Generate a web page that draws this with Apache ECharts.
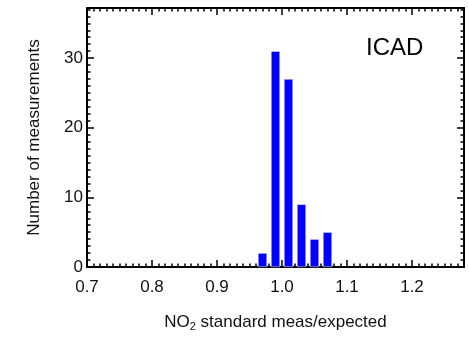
<!DOCTYPE html>
<html>
<head>
<meta charset="utf-8">
<script src="https://cdn.jsdelivr.net/npm/echarts@6/dist/echarts.min.js"></script>
<style>html,body{margin:0;padding:0;background:#fff}#c{width:469px;height:337px}</style>
</head>
<body>
<div id="c"></div>
<script>
// Data
const binCenters = [0.97, 0.99, 1.01, 1.03, 1.05, 1.07];
const counts = [2, 31, 27, 9, 4, 5];
const xTicks = [0.7, 0.8, 0.9, 1.0, 1.1, 1.2];
const yTicks = [0, 10, 20, 30];
const panelLabel = 'ICAD';

const FONT = 'Liberation Sans';
const X_MIN = 0.7, X_MAX = 1.28, Y_MIN = 0, Y_MAX = 37.2;
const chart = echarts.init(document.getElementById('c'), null, {renderer: 'canvas'});

function xAxisDef(pos, major, showLabels) {
  return {
    type: 'value', position: pos, min: X_MIN, max: X_MAX,
    interval: major ? 0.1 : 0.01,
    axisLine: {show: major, onZero: false, lineStyle: {color: '#000', width: 2}},
    axisTick: {show: true, inside: true, length: major ? 7 : 3.5, lineStyle: {color: '#000', width: 1.5}},
    axisLabel: {show: showLabels, showMaxLabel: false, margin: 12, color: '#111', fontFamily: FONT, fontSize: 17,
      formatter: v => xTicks.some(t => Math.abs(t - v) < 1e-6) ? v.toFixed(1) : ''},
    splitLine: {show: false},
    name: showLabels ? '{a|NO}{s|2}{a| standard meas/expected}' : '',
    nameLocation: 'middle', nameGap: 45,
    nameTextStyle: {rich: {
      a: {fontFamily: FONT, fontSize: 17, color: '#111'},
      s: {fontFamily: FONT, fontSize: 11, color: '#111', padding: [9, 0, 0, 0]}
    }}
  };
}
function yAxisDef(pos, major, showLabels) {
  return {
    type: 'value', position: pos, min: Y_MIN, max: Y_MAX,
    interval: major ? 10 : 1,
    axisLine: {show: major, onZero: false, lineStyle: {color: '#000', width: 2}},
    axisTick: {show: true, inside: true, length: major ? 7 : 3.5, lineStyle: {color: '#000', width: 1.5}},
    axisLabel: {show: showLabels, showMaxLabel: false, margin: 4, color: '#111', fontFamily: FONT, fontSize: 17,
      formatter: v => yTicks.indexOf(v) >= 0 ? String(v) : ''},
    splitLine: {show: false},
    name: showLabels ? 'Number of measurements' : '',
    nameLocation: 'middle', nameGap: 44,
    nameTextStyle: {fontFamily: FONT, fontSize: 17, color: '#111'}
  };
}

chart.setOption({
  animation: false,
  grid: {left: 87, right: 5, top: 8, bottom: 69, containLabel: false},
  xAxis: [xAxisDef('bottom', true, true), xAxisDef('bottom', false, false),
          xAxisDef('top', true, false), xAxisDef('top', false, false)],
  yAxis: [yAxisDef('left', true, true), yAxisDef('left', false, false),
          yAxisDef('right', true, false), yAxisDef('right', false, false)],
  graphic: [{
    type: 'text', left: 366, top: 36,
    style: {text: panelLabel, fontFamily: FONT, fontSize: 24, fill: '#000'}
  }],
  series: [{
    type: 'bar', xAxisIndex: 0, yAxisIndex: 0,
    data: binCenters.map((c, i) => [c, counts[i]]),
    barWidth: 9,
    itemStyle: {color: '#0000ff', borderColor: '#f4f4ff', borderWidth: 0.5}
  }]
});
</script>
</body>
</html>
